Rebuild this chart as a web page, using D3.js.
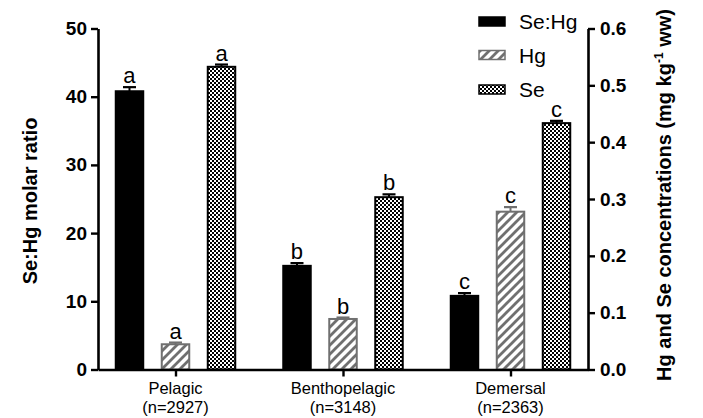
<!DOCTYPE html>
<html>
<head>
<meta charset="utf-8">
<script src="https://cdn.jsdelivr.net/npm/d3@7"></script>
<style>
  html, body { margin: 0; padding: 0; background: #fff; }
  svg { display: block; }
  text { font-family: "Liberation Sans", Arial, Helvetica, sans-serif; }
</style>
</head>
<body>
<svg id="chart" width="703" height="418"></svg>
<script>
// ---- data ----
const groups = ["Pelagic", "Benthopelagic", "Demersal"];
const groupN = ["(n=2927)", "(n=3148)", "(n=2363)"];
const series = ["Se:Hg", "Hg", "Se"];
const seHgRatio = [40.8, 15.2, 10.8];      // left axis
const seHgErr = [0.6, 0.4, 0.4];
const hgConc = [0.0444, 0.0889, 0.2777];   // right axis (mg kg-1 ww)
const hgErr = [0.003, 0.0025, 0.008];
const seConc = [0.5326, 0.3032, 0.4335];
const seErr = [0.004, 0.005, 0.004];
const sigLetters = ["a", "b", "c"];
const leftTicks = [0, 10, 20, 30, 40, 50];
const rightTicks = [0, 0.1, 0.2, 0.3, 0.4, 0.5, 0.6];

const svg = d3.select("#chart");
svg.append("rect").attr("width", 703).attr("height", 418).attr("fill", "#fff");

const GREY = "#707070";
const defs = svg.append("defs");
// hatch pattern
const hatch = defs.append("pattern").attr("id", "hatch")
  .attr("patternUnits", "userSpaceOnUse").attr("width", 9).attr("height", 9);
hatch.append("rect").attr("width", 9).attr("height", 9).attr("fill", "#fff");
hatch.append("path").attr("d", "M-2,2 L2,-2 M0,9 L9,0 M7,11 L11,7")
  .attr("stroke", GREY).attr("stroke-width", 2.8);
// checker pattern
const checker = defs.append("pattern").attr("id", "checker")
  .attr("patternUnits", "userSpaceOnUse").attr("width", 4).attr("height", 4);
checker.append("rect").attr("width", 4).attr("height", 4).attr("fill", "#fff");
checker.append("rect").attr("width", 2).attr("height", 2).attr("fill", "#000");
checker.append("rect").attr("x", 2).attr("y", 2).attr("width", 2).attr("height", 2).attr("fill", "#000");

const x0 = 98, x1 = 588, yBase = 369.5, yTop = 28.5;
const x = d3.scalePoint().domain(groups).range([x0, x1]).padding(0.4627);
const xs = d3.scaleBand().domain(series).range([-60.75, 60.75]).paddingInner(0.359);
const yL = d3.scaleLinear().domain([0, 50]).range([yBase, yTop]);
const yR = d3.scaleLinear().domain([0, 0.6]).range([yBase, yTop]);

const styles = {
  "Se:Hg": { fill: "#000", stroke: "#000", scale: yL, vals: seHgRatio, errs: seHgErr, err: "#000" },
  "Hg": { fill: "url(#hatch)", stroke: GREY, scale: yR, vals: hgConc, errs: hgErr, err: GREY },
  "Se": { fill: "url(#checker)", stroke: "#000", scale: yR, vals: seConc, errs: seErr, err: "#000" }
};

const bars = [];
groups.forEach((g, gi) => {
  series.forEach(s => {
    const st = styles[s];
    bars.push({ g, gi, s, v: st.vals[gi], e: st.errs[gi], st });
  });
});

const bw = xs.bandwidth();
const gBars = svg.append("g");
bars.forEach(b => {
  const cx = x(b.g) + xs(b.s) + bw / 2;
  const yv = b.st.scale(b.v);
  const ye = b.st.scale(b.v + b.e);
  // error bar
  gBars.append("line").attr("x1", cx).attr("x2", cx).attr("y1", yv).attr("y2", ye)
    .attr("stroke", b.st.err).attr("stroke-width", 2);
  gBars.append("line").attr("x1", cx - 6.5).attr("x2", cx + 6.5).attr("y1", ye).attr("y2", ye)
    .attr("stroke", b.st.err).attr("stroke-width", 2.2);
  // bar
  gBars.append("rect")
    .attr("x", x(b.g) + xs(b.s) + 1).attr("y", yv)
    .attr("width", bw - 2).attr("height", yBase - yv)
    .attr("fill", b.st.fill).attr("stroke", b.st.stroke).attr("stroke-width", 2);
  // letter
  gBars.append("text").attr("x", cx).attr("y", ye - 4)
    .attr("text-anchor", "middle").attr("font-size", 22).attr("fill", "#000")
    .text(sigLetters[b.gi]);
});

// axes
const axL = svg.append("g").attr("transform", `translate(${x0},0)`)
  .call(d3.axisLeft(yL).tickValues(leftTicks).tickFormat(d3.format("d")).tickSize(7).tickSizeOuter(0).tickPadding(4));
const axR = svg.append("g").attr("transform", `translate(${x1},0)`)
  .call(d3.axisRight(yR).tickValues(rightTicks).tickFormat(d3.format(".1f")).tickSize(7).tickSizeOuter(0).tickPadding(5));
const axB = svg.append("g").attr("transform", `translate(0,${yBase})`)
  .call(d3.axisBottom(x).tickSize(7).tickSizeOuter(0).tickFormat(""));
[axL, axR, axB].forEach(a => {
  a.select(".domain").attr("stroke", "#000").attr("stroke-width", 2.6);
  a.selectAll(".tick line").attr("stroke", "#000").attr("stroke-width", 2.4);
  a.selectAll(".tick text").attr("fill", "#000").attr("font-size", 19).attr("font-weight", "bold")
    .style("font-family", '"Liberation Sans", Arial, sans-serif');
});

// x labels
groups.forEach((g, i) => {
  svg.append("text").attr("x", x(g)).attr("y", 394).attr("text-anchor", "middle")
    .attr("font-size", 16.5).text(g);
  svg.append("text").attr("x", x(g)).attr("y", 413).attr("text-anchor", "middle")
    .attr("font-size", 16.5).text(groupN[i]);
});

// axis titles
svg.append("text").attr("transform", "translate(37,201) rotate(-90)")
  .attr("text-anchor", "middle").attr("font-size", 20).attr("font-weight", "bold")
  .text("Se:Hg molar ratio");
const rt = svg.append("text").attr("transform", "translate(671,195) rotate(-90)")
  .attr("text-anchor", "middle").attr("font-size", 20).attr("font-weight", "bold");
rt.append("tspan").text("Hg and Se concentrations (mg kg");
rt.append("tspan").attr("dy", -8).attr("font-size", 12).text("-1");
rt.append("tspan").attr("dy", 8).text(" ww)");

// legend
const legY = [29, 62.5, 97];
series.forEach((s, i) => {
  const st = styles[s];
  svg.append("rect").attr("x", 479).attr("y", legY[i] - 12).attr("width", 26).attr("height", 9)
    .attr("fill", st.fill).attr("stroke", st.stroke).attr("stroke-width", 1.5);
  svg.append("text").attr("x", 519).attr("y", legY[i]).attr("font-size", 21).text(s);
});
</script>
</body>
</html>
